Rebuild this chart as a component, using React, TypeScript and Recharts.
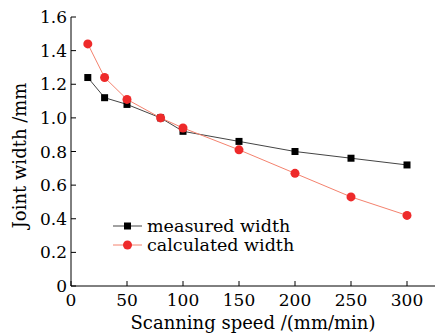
import React from 'react';
import { LineChart, Line, XAxis, YAxis } from 'recharts';

const speeds = [15, 30, 50, 80, 100, 150, 200, 250, 300];
const measured = [1.24, 1.12, 1.08, 1.0, 0.92, 0.86, 0.8, 0.76, 0.72];
const calculated = [1.44, 1.24, 1.11, 1.0, 0.94, 0.81, 0.67, 0.53, 0.42];
const xTicks = [0, 50, 100, 150, 200, 250, 300];
const yTicks = [0, 0.2, 0.4, 0.6, 0.8, 1.0, 1.2, 1.4, 1.6];
const seriesNames = ['measured width', 'calculated width'];

const data = speeds.map((s, i) => ({ speed: s, measured: measured[i], calculated: calculated[i] }));

const FONT = 'DejaVu Serif';
const BLACK_LINE = '#444444';
const RED_LINE = '#f4826e';
const RED_DOT = '#ee2a2a';

const SquareDot = (props: any) => {
  const { cx, cy } = props;
  if (cx == null || cy == null) return null;
  return <rect key={props.index} x={cx - 3.5} y={cy - 3.5} width={7} height={7} fill="#000" />;
};

const CircleDot = (props: any) => {
  const { cx, cy } = props;
  if (cx == null || cy == null) return null;
  return <circle key={props.index} cx={cx} cy={cy} r={4.5} fill={RED_DOT} />;
};

const LegendOverlay = () => (
  <svg width={200} height={50} style={{ position: 'absolute', left: 110, top: 216, overflow: 'visible' }}>
    <g>
      <line x1={3} y1={10} x2={32} y2={10} stroke={BLACK_LINE} strokeWidth={1} />
      <rect x={14} y={6.5} width={7} height={7} fill="#000" />
      <text x={37} y={16} fontFamily={FONT} fontSize={17.5} fill="#000">{seriesNames[0]}</text>
    </g>
    <g>
      <line x1={3} y1={29} x2={32} y2={29} stroke={RED_LINE} strokeWidth={1} />
      <circle cx={17.5} cy={29} r={4.5} fill={RED_DOT} />
      <text x={37} y={35} fontFamily={FONT} fontSize={17.5} fill="#000">{seriesNames[1]}</text>
    </g>
  </svg>
);

export default function App() {
  return (
    <div style={{ position: 'absolute', left: 0, top: 0, width: 443, height: 334, background: '#fff' }}>
      <LineChart width={443} height={334} data={data} margin={{ top: 17, right: 8, bottom: 0, left: 0 }}>
        <XAxis
          dataKey="speed"
          type="number"
          domain={[0, 325]}
          ticks={xTicks}
          tickSize={-5}
          tickMargin={13}
          height={48}
          stroke="#000"
          tick={{ fill: '#000', fontFamily: FONT, fontSize: 17 }}
          label={{ value: 'Scanning speed /(mm/min)', position: 'insideBottom', offset: 5, fill: '#000', fontFamily: FONT, fontSize: 18 }}
        />
        <YAxis
          type="number"
          domain={[0, 1.6]}
          ticks={yTicks}
          tickSize={-5}
          tickMargin={9}
          width={71}
          stroke="#000"
          tickFormatter={(v: number) => (v === 0 ? '0' : v.toFixed(1))}
          tick={{ fill: '#000', fontFamily: FONT, fontSize: 17 }}
          label={{ value: 'Joint width /mm', angle: -90, position: 'insideLeft', offset: 20, dy: 4, style: { textAnchor: 'middle' }, fill: '#000', fontFamily: FONT, fontSize: 18 }}
        />
        <Line
          dataKey="measured"
          stroke={BLACK_LINE}
          strokeWidth={1}
          dot={SquareDot}
          activeDot={false}
          isAnimationActive={false}
        />
        <Line
          dataKey="calculated"
          stroke={RED_LINE}
          strokeWidth={1}
          dot={CircleDot}
          activeDot={false}
          isAnimationActive={false}
        />
      </LineChart>
      <LegendOverlay />
    </div>
  );
}
